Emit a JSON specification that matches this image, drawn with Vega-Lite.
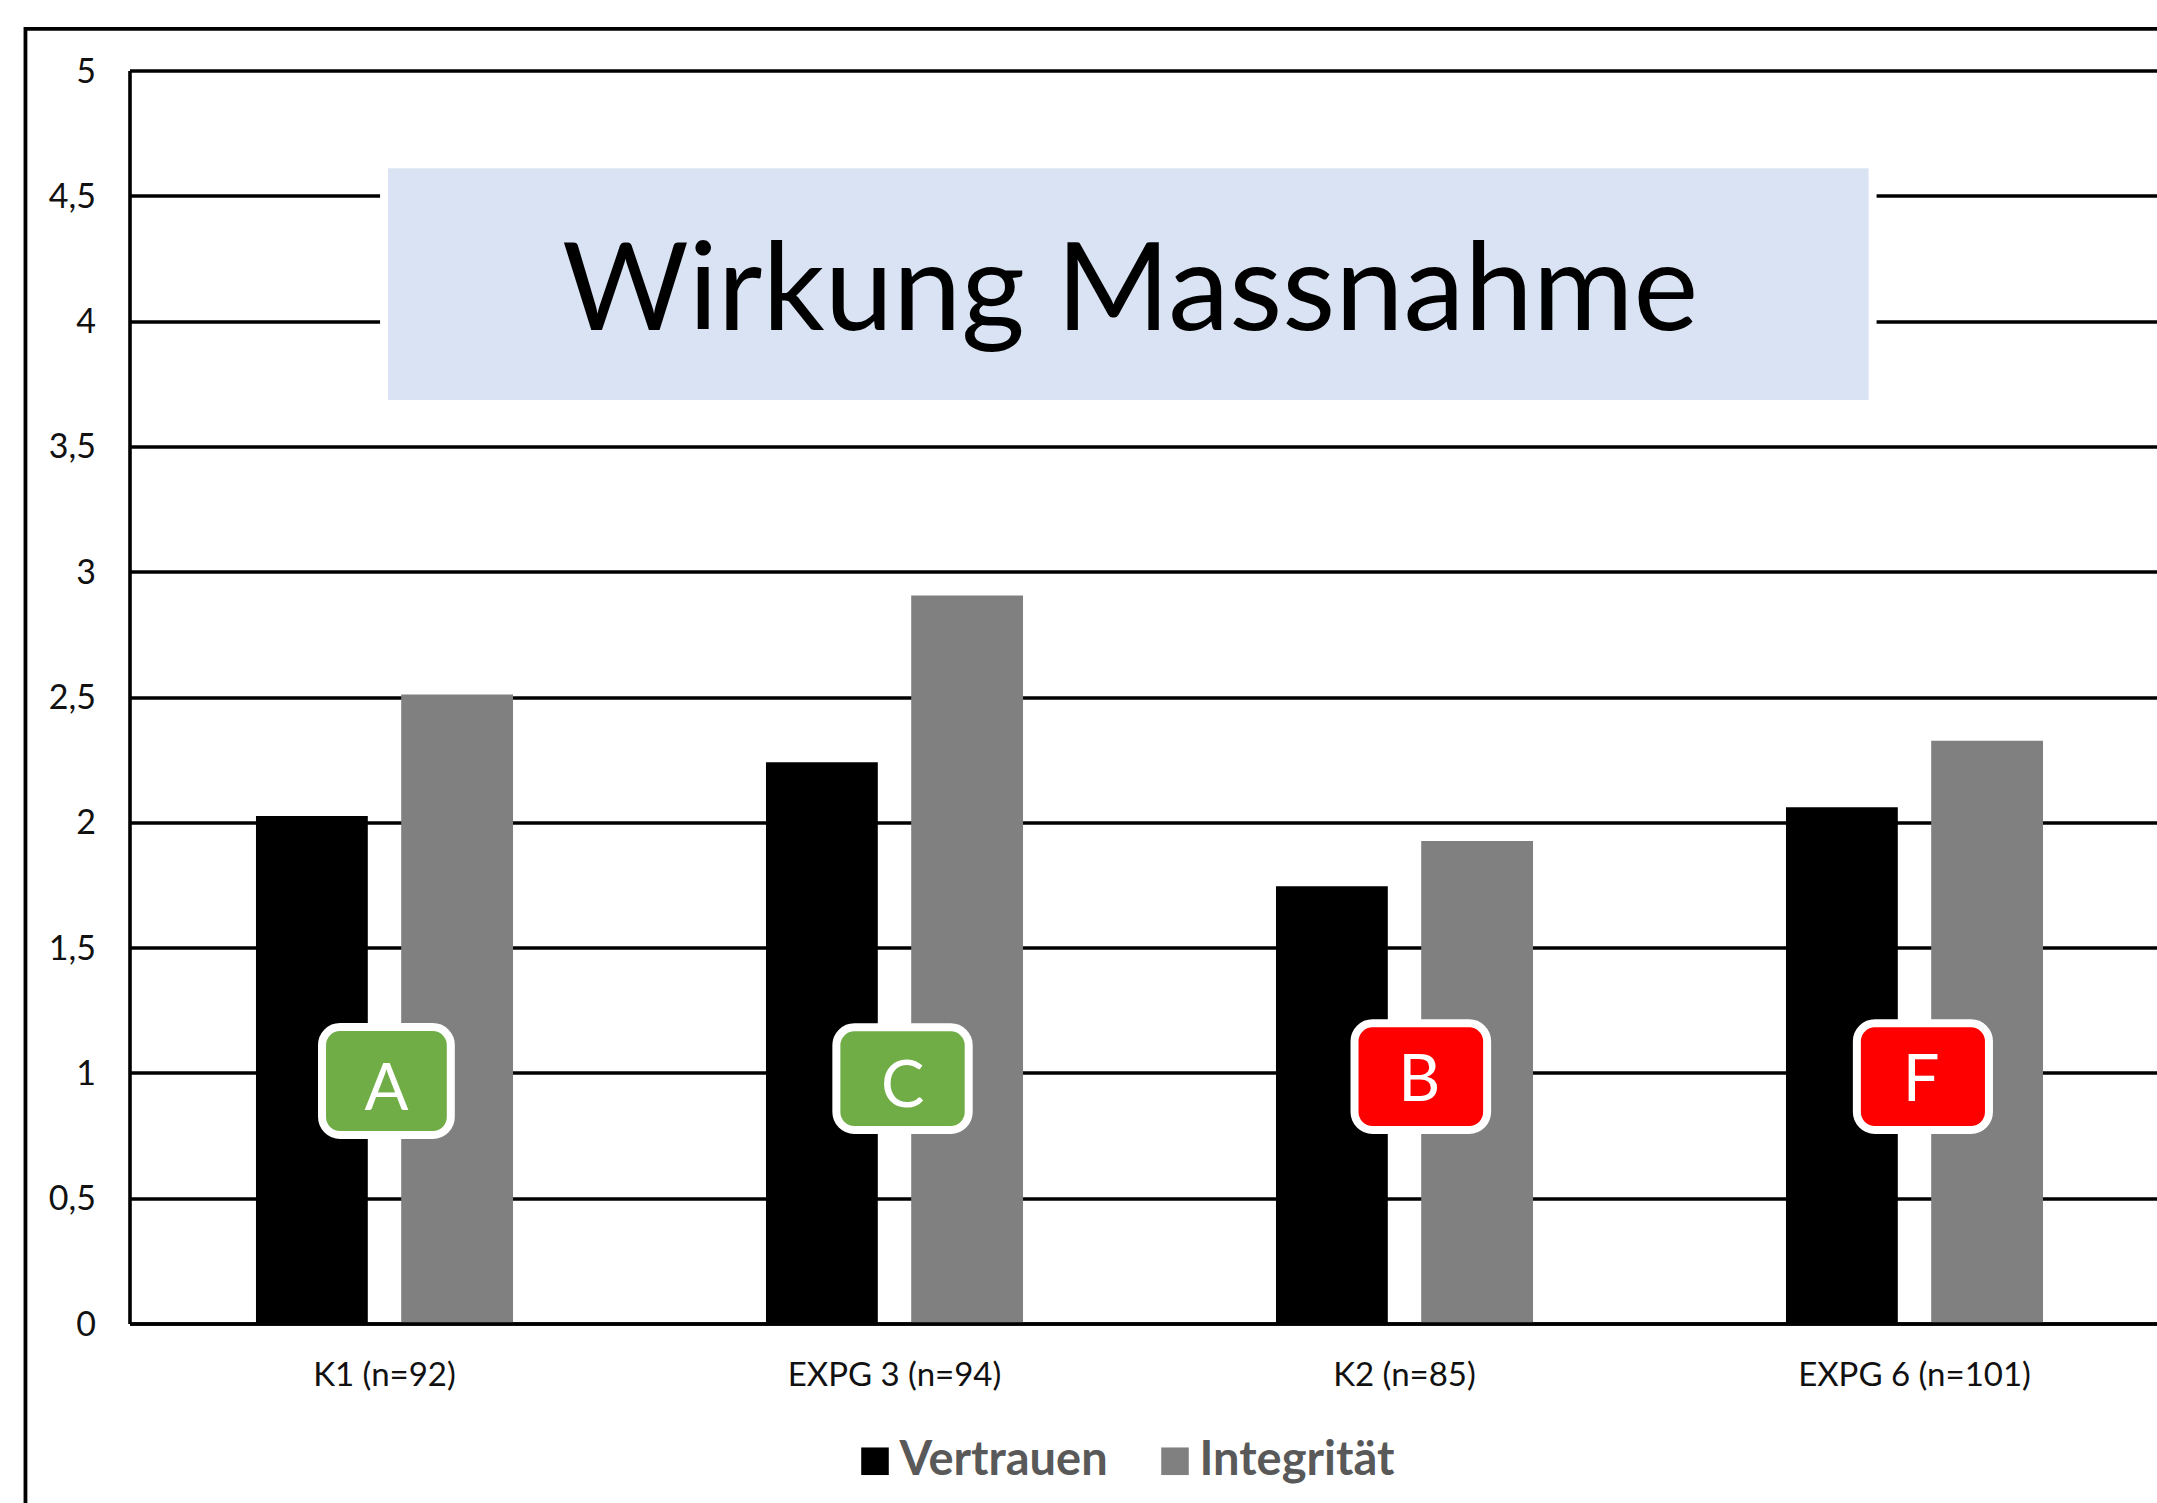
{
"$schema":"https://vega.github.io/schema/vega-lite/v6.json",
"autosize":{"type":"none"},
"width":2028,"height":1253,
"padding":{"left":129.5,"top":70.5,"right":0,"bottom":179.5},
"background":"white",
"config":{"view":{"stroke":null},"font":"Lato"},
"datasets":{
"bars":[
{"group":"K1 (n=92)","measure":"Vertrauen","value":2.025},
{"group":"K1 (n=92)","measure":"Integrität","value":2.51},
{"group":"EXPG 3 (n=94)","measure":"Vertrauen","value":2.24},
{"group":"EXPG 3 (n=94)","measure":"Integrität","value":2.905},
{"group":"K2 (n=85)","measure":"Vertrauen","value":1.745},
{"group":"K2 (n=85)","measure":"Integrität","value":1.925},
{"group":"EXPG 6 (n=101)","measure":"Vertrauen","value":2.06},
{"group":"EXPG 6 (n=101)","measure":"Integrität","value":2.325}
],
"frame":[{"x0":-0.204,"x1":4.2,"y0":-1,"y1":5.166}],
"titlebox":[{"x0":0.507,"x1":3.41,"y0":3.685,"y1":4.61,"xm":1.962,"ym":3.964,"label":"Wirkung Massnahme"}],
"badges":[
{"label":"A","kind":"green","x0":0.3775,"x1":0.63,"y0":0.752,"y1":1.183,"xm":0.504,"ym":0.852},
{"label":"C","kind":"green","x0":1.386,"x1":1.6455,"y0":0.772,"y1":1.182,"xm":1.516,"ym":0.862},
{"label":"B","kind":"red","x0":2.402,"x1":2.662,"y0":0.772,"y1":1.198,"xm":2.529,"ym":0.888},
{"label":"F","kind":"red","x0":3.387,"x1":3.646,"y0":0.772,"y1":1.198,"xm":3.513,"ym":0.888}
]
},
"layer":[
{"data":{"name":"frame"},"mark":{"type":"rect","fill":null,"fillOpacity":0,"stroke":"black","strokeWidth":3.8,"clip":false},
"encoding":{"x":{"field":"x0","type":"quantitative","scale":{"domain":[0,4],"range":[0,2040],"nice":false,"zero":false},"axis":null},"x2":{"field":"x1"},
"y":{"field":"y0","type":"quantitative","scale":{"domain":[0,5],"nice":false},"axis":{"title":null,"values":[0,0.5,1,1.5,2,2.5,3,3.5,4,4.5,5],"labelExpr":"replace(datum.value+'','.',',')","grid":true,"gridColor":"black","gridWidth":3.4,"domainColor":"black","domainWidth":3.6,"ticks":false,"labelPadding":34,"labelOffset":1.5,"labelFont":"Lato","labelFontSize":34,"labelColor":"#111111"}},"y2":{"field":"y1"}}},
{"data":{"name":"bars"},"mark":{"type":"bar"},
"encoding":{
"x":{"field":"group","type":"nominal","sort":["K1 (n=92)","EXPG 3 (n=94)","K2 (n=85)","EXPG 6 (n=101)"],"scale":{"range":[0,2040],"paddingInner":0.496,"paddingOuter":0.248},"axis":{"title":null,"labelAngle":0,"domainColor":"black","domainWidth":3.6,"ticks":false,"labelPadding":36,"labelFont":"Lato","labelFontSize":33,"labelLimit":400,"labelColor":"#111111","zindex":1}},
"xOffset":{"field":"measure","type":"nominal","sort":["Vertrauen","Integrität"],"scale":{"paddingInner":0.23,"paddingOuter":0}},
"y":{"field":"value","type":"quantitative","title":null},
"color":{"field":"measure","type":"nominal","sort":["Vertrauen","Integrität"],"scale":{"domain":["Vertrauen","Integrität"],"range":["#000000","#808080"]},
"legend":{"title":null,"orient":"none","legendX":722,"legendY":1367,"direction":"horizontal","columns":2,"symbolType":"square","symbolSize":760,"symbolStrokeWidth":0,"labelFont":"Lato","labelFontWeight":"bold","labelFontSize":47,"labelLimit":400,"labelColor":"#595959","columnPadding":43,"labelOffset":1,"symbolOpacity":1}}}},
{"data":{"name":"titlebox"},"mark":{"type":"rect","fill":"white","stroke":"white","strokeWidth":16},
"encoding":{"x":{"field":"x0","type":"quantitative","scale":{"domain":[0,4],"range":[0,2040],"nice":false,"zero":false},"axis":null},"x2":{"field":"x1"},"y":{"field":"y0","type":"quantitative","title":null},"y2":{"field":"y1"}}},
{"data":{"name":"titlebox"},"mark":{"type":"rect","fill":"#DAE3F3"},
"encoding":{"x":{"field":"x0","type":"quantitative","scale":{"domain":[0,4],"range":[0,2040],"nice":false,"zero":false},"axis":null},"x2":{"field":"x1"},"y":{"field":"y0","type":"quantitative","title":null},"y2":{"field":"y1"}}},
{"data":{"name":"titlebox"},"mark":{"type":"text","font":"Lato","fontSize":122.5,"color":"#000000","align":"center","baseline":"alphabetic"},
"encoding":{"x":{"field":"xm","type":"quantitative","scale":{"domain":[0,4],"range":[0,2040],"nice":false,"zero":false},"axis":null},"y":{"field":"ym","type":"quantitative","title":null},"text":{"field":"label"}}},
{"data":{"name":"badges"},"mark":{"type":"rect","stroke":"white","strokeWidth":8,"cornerRadius":18},
"encoding":{"x":{"field":"x0","type":"quantitative","scale":{"domain":[0,4],"range":[0,2040],"nice":false,"zero":false},"axis":null},"x2":{"field":"x1"},"y":{"field":"y0","type":"quantitative","title":null},"y2":{"field":"y1"},
"fill":{"field":"kind","type":"nominal","scale":{"domain":["green","red"],"range":["#70AD47","#FF0000"]},"legend":null}}},
{"data":{"name":"badges"},"mark":{"type":"text","font":"Lato","fontSize":65,"color":"white","align":"center","baseline":"alphabetic"},
"encoding":{"x":{"field":"xm","type":"quantitative","scale":{"domain":[0,4],"range":[0,2040],"nice":false,"zero":false},"axis":null},"y":{"field":"ym","type":"quantitative","title":null},"text":{"field":"label"}}}
],
"resolve":{"scale":{"x":"independent"}}
}
